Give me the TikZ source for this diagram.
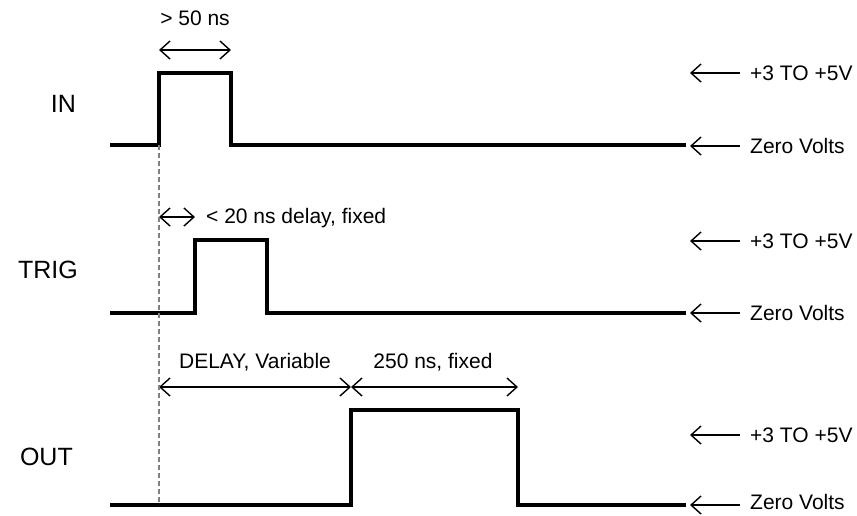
\documentclass[tikz,border=0pt]{standalone}
\usepackage{fontspec}
\setmainfont{Liberation Sans}
\usetikzlibrary{arrows.meta, positioning, calc}

\begin{document}
\begin{tikzpicture}[x=1pt, y=-1pt,
    wave/.style={line width=3.8pt},
    span/.style={{Straight Barb[length=10pt,width=18pt]}-{Straight Barb[length=10pt,width=18pt]}, line width=1.4pt},
    level/.style={{Straight Barb[length=10pt,width=18pt]}-, line width=1.4pt},
    signame/.style={font=\fontsize{25}{30}\selectfont, inner sep=0pt},
    note/.style={font=\fontsize{21}{25}\selectfont, inner sep=0pt},
]
    \useasboundingbox (0,0) rectangle (857,515);

    % IN signal
    \node[signame, anchor=base east] (in) at (76,112) {IN};
    \coordinate (inUp) at (159,73);
    \coordinate (inDn) at (231,145);
    \draw[wave] (110,145) -| (inUp) -| (inDn) -- (686,145);
    \coordinate (wA) at (159,50);
    \coordinate (wB) at (231,50);
    \draw[span] (wA) -- (wB);
    \node[note, anchor=base] (wlbl) at (195,25) {> 50 ns};

    % TRIG signal
    \node[signame, anchor=base east] (trig) at (78,278) {TRIG};
    \coordinate (trUp) at (195,240);
    \coordinate (trDn) at (267,313);
    \draw[wave] (110,313) -| (trUp) -| (trDn) -- (686,313);
    \coordinate (dA) at (159,217);
    \coordinate (dB) at (195,217);
    \draw[span] (dA) -- (dB);
    \node[note, anchor=base west] (dlbl) at (206,223) {< 20 ns delay, fixed};

    % OUT signal
    \node[signame, anchor=base east] (out) at (73,465) {OUT};
    \coordinate (outUp) at (351,410);
    \coordinate (outDn) at (518,505);
    \draw[wave] (110,505) -| (outUp) -| (outDn) -- (686,505);
    \coordinate (vA) at (159,387);
    \coordinate (vB) at (351,387);
    \coordinate (vC) at (518,387);
    \draw[span] (vA) -- (vB);
    \draw[span] (vB) -- (vC);
    \node[note, anchor=base] (vlbl) at (255,368) {DELAY, Variable};
    \node[note, anchor=base] (flbl) at (433,368) {250 ns, fixed};

    % time reference
    \coordinate (t0) at (159,145);
    \coordinate (t1) at (159,505);
    \draw[gray, line width=1.2pt, dash pattern=on 5pt off 3pt] (t0) -- (t1);

    % levels
    \node[note, anchor=west] (inHi) at (750,73) {+3 TO +5V};
    \node[note, anchor=west] (inLo) at (750,146) {Zero Volts};
    \node[note, anchor=west] (trHi) at (750,241) {+3 TO +5V};
    \node[note, anchor=west] (trLo) at (750,313) {Zero Volts};
    \node[note, anchor=west] (outHi) at (750,435) {+3 TO +5V};
    \node[note, anchor=west] (outLo) at (750,502) {Zero Volts};
    \draw[level] (690,73) -- ([xshift=-10pt]inHi.west);
    \draw[level] (690,146) -- ([xshift=-10pt]inLo.west);
    \draw[level] (690,241) -- ([xshift=-10pt]trHi.west);
    \draw[level] (690,313) -- ([xshift=-10pt]trLo.west);
    \draw[level] (690,435) -- ([xshift=-10pt]outHi.west);
    \draw[level] (690,505) -- ([xshift=-10pt]outLo.west |- 0,505);
\end{tikzpicture}
\end{document}
